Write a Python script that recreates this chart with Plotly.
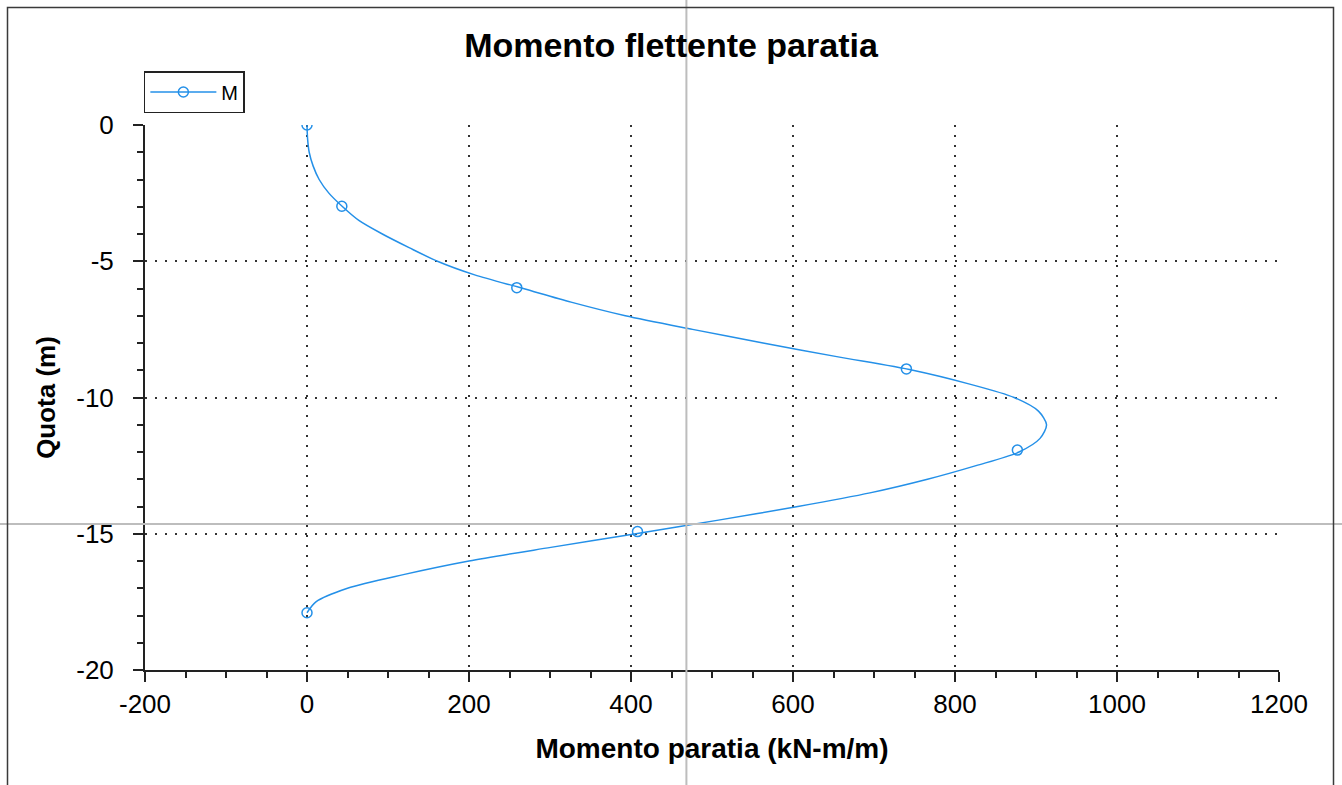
import plotly.graph_objects as go

# ---- data ----
quota = [0, -0.5, -1.0, -1.5, -2.0, -2.5, -3.0, -3.5, -4.0, -4.5, -5.0, -5.5, -6.0,
         -6.5, -7.0, -7.5, -8.0, -8.5, -9.0, -9.5, -10.0, -10.5, -11.0, -11.5, -12.0,
         -12.5, -13.0, -13.5, -14.0, -14.5, -15.0, -15.5, -16.0, -16.5, -17.0, -17.5, -17.9]
momento = [0, 0.7, 2.7, 7.5, 15, 27, 44, 64, 93, 126, 161, 207, 267,
           326, 393, 476, 563, 654, 748, 817, 873, 903, 913, 905, 879,
           826, 766, 695, 606, 508, 406, 301, 200, 119, 50, 11, 0]

marker_quota = [0, -2.98, -5.97, -8.95, -11.93, -14.92, -17.9]
marker_momento = [0, 43, 259, 740, 877, 408, 0]

x_tick_vals = [-200, 0, 200, 400, 600, 800, 1000, 1200]
x_tick_text = ["-200", "0", "200", "400", "600", "800", "1000", "1200"]
y_tick_vals = [0, -5, -10, -15, -20]
y_tick_text = ["0", "-5", "-10", "-15", "-20"]

cursor_x = 468.4    # crosshair cursor position (data units)
cursor_y = -14.64

x_range = [-200, 1200]
y_range = [-20, 0]

# ---- styles ----
W, H = 1342, 785
ML, MR, MT, MB = 145, 63, 125, 115
BLUE = "#2490E8"
AX = "#222222"
FONT = "Liberation Sans, Arial, sans-serif"

fig = go.Figure()

fig.add_trace(go.Scatter(
    x=momento, y=quota, mode="lines",
    line=dict(color=BLUE, width=1.5, shape="spline", smoothing=0.8),
    showlegend=False, hoverinfo="skip"))

# markers (separated so no straight segments are drawn between them)
mx, my = [], []
for a, b in zip(marker_momento, marker_quota):
    mx += [a, None]
    my += [b, None]
fig.add_trace(go.Scatter(
    x=mx, y=my, mode="lines+markers", name="M",
    line=dict(color=BLUE, width=1.5),
    marker=dict(symbol="circle-open", size=10, color=BLUE, line=dict(width=1.5, color=BLUE)),
    connectgaps=False))

grid = dict(showgrid=True, gridcolor="#333333", gridwidth=1.5, griddash="2px,8px")

fig.update_layout(
    width=W, height=H,
    margin=dict(l=ML, r=MR, t=MT, b=MB),
    paper_bgcolor="white", plot_bgcolor="white",
    font=dict(family=FONT, color="black"),
    title=dict(text="Momento flettente paratia", x=0.5, xref="container", xanchor="center",
               y=1 - 45 / H, yanchor="middle",
               font=dict(size=34, family=FONT, weight="bold", color="black")),
    legend=dict(x=-0.001, y=1.022, xanchor="left", yanchor="bottom",
                bgcolor="white", bordercolor=AX, borderwidth=1.5,
                font=dict(size=20, family=FONT, color="black"),
                tracegroupgap=0, itemwidth=66),
    xaxis=dict(range=x_range, tickmode="array", tickvals=x_tick_vals, ticktext=x_tick_text,
               ticks="outside", ticklen=10, tickwidth=1.5, tickcolor=AX,
               showline=True, linewidth=2, linecolor=AX, mirror=False, zeroline=False,
               tickfont=dict(size=26, family=FONT, color="black"),
               minor=dict(ticks="outside", ticklen=6, tickwidth=1.5, tickcolor=AX,
                          dtick=50, tick0=0, showgrid=False),
               title=dict(text="Momento paratia (kN-m/m)", standoff=20,
                          font=dict(size=28, family=FONT, weight="bold", color="black")),
               **grid),
    xaxis2=dict(range=x_range, overlaying="x", anchor="y", side="bottom",
                tickmode="array", tickvals=x_tick_vals, showticklabels=False,
                ticks="inside", ticklen=9, tickwidth=1.5, tickcolor=AX,
                showline=True, linewidth=2, linecolor=AX, mirror="ticks",
                zeroline=False, showgrid=False,
                minor=dict(ticks="inside", ticklen=5, tickwidth=1.5, tickcolor=AX,
                           dtick=50, tick0=0, showgrid=False)),
    yaxis=dict(range=y_range, tickmode="array", tickvals=y_tick_vals, ticktext=y_tick_text,
               ticks="outside", ticklen=10, tickwidth=1.5, tickcolor=AX,
               showline=True, linewidth=2, linecolor=AX, mirror=False, zeroline=False,
               ticklabelstandoff=14,
               tickfont=dict(size=26, family=FONT, color="black"),
               minor=dict(ticks="outside", ticklen=6, tickwidth=1.5, tickcolor=AX,
                          dtick=1, tick0=0, showgrid=False),
               title=dict(text="Quota (m)", standoff=13,
                          font=dict(size=26, family=FONT, weight="bold", color="black")),
               **grid),
    yaxis2=dict(range=y_range, overlaying="y", anchor="x", side="left",
                tickmode="array", tickvals=y_tick_vals, showticklabels=False,
                ticks="inside", ticklen=9, tickwidth=1.5, tickcolor=AX,
                showline=True, linewidth=2, linecolor=AX, mirror="ticks",
                zeroline=False, showgrid=False,
                minor=dict(ticks="inside", ticklen=5, tickwidth=1.5, tickcolor=AX,
                           dtick=1, tick0=0, showgrid=False)),
)

# helper conversions from pixels to paper coordinates (for frame / cursor extents)
pw, ph = W - ML - MR, H - MT - MB
def px_x(p):
    return (p - ML) / pw
def px_y(p):
    return (H - MB - p) / ph

# crosshair cursor position from data units via axis ranges
cx = (cursor_x - x_range[0]) / (x_range[1] - x_range[0])
cy = (cursor_y - y_range[0]) / (y_range[1] - y_range[0])

fig.add_shape(type="line", xref="paper", yref="paper", x0=cx, x1=cx,
              y0=px_y(H + 5), y1=px_y(-5), line=dict(color="#BDBDBD", width=2), layer="above")
fig.add_shape(type="line", xref="paper", yref="paper", y0=cy, y1=cy,
              x0=px_x(-5), x1=px_x(W + 5), line=dict(color="#BDBDBD", width=2), layer="above")
# outer frame
fig.add_shape(type="rect", xref="paper", yref="paper",
              x0=px_x(7.5), x1=px_x(1333.5), y0=px_y(H + 10), y1=px_y(7.5),
              line=dict(color="#3a3a3a", width=1.5), fillcolor="rgba(0,0,0,0)", layer="above")

fig.write_html("out.html")
